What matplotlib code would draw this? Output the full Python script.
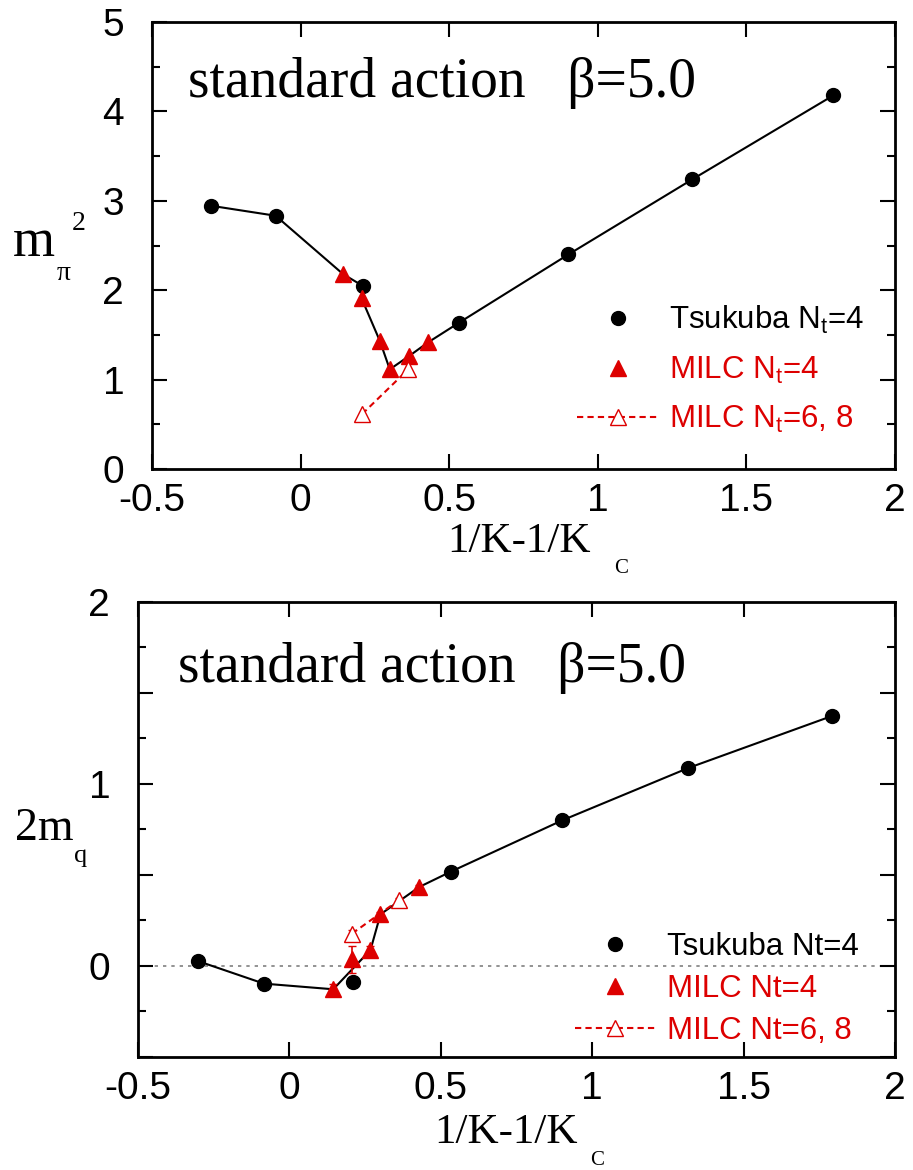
import numpy as np
import matplotlib
matplotlib.use("Agg")
import matplotlib.pyplot as plt
from matplotlib.lines import Line2D

plt.rcParams['font.family'] = ['Liberation Sans', 'DejaVu Sans']
plt.rcParams['mathtext.fontset'] = 'custom'
plt.rcParams['mathtext.rm'] = 'Liberation Sans'
plt.rcParams['mathtext.it'] = 'Liberation Sans'

red = '#dd0000'
serif = ['Liberation Serif', 'DejaVu Serif']

# top panel: m_pi^2
tsu_x = [-0.302, -0.084, 0.210, 0.533, 0.901, 1.318, 1.793]
tsu_mpi2 = [2.945, 2.833, 2.047, 1.637, 2.40, 3.24, 4.18]
milc4_x = [0.143, 0.205, 0.267, 0.300, 0.365, 0.429]
milc4_mpi2 = [2.18, 1.91, 1.43, 1.115, 1.264, 1.417]
milc68_x = [0.207, 0.362]
milc68_mpi2 = [0.615, 1.115]

# bottom panel: 2m_q
tsu_2mq = [0.027, -0.097, -0.088, 0.518, 0.80, 1.088, 1.374]
milc4b_x = [0.145, 0.207, 0.268, 0.301, 0.429]
milc4_2mq = [-0.128, 0.037, 0.088, 0.284, 0.434]
milc4_2mq_err = [0.03, 0.075, 0.02, 0.015, 0.01]
milc68b_x = [0.207, 0.363]
milc68_2mq = [0.178, 0.363]
milc68_2mq_err = [0.02, 0.01]

fig = plt.figure(figsize=(9.13, 11.70), dpi=100)
ax1 = fig.add_axes([0.1665, 0.5991, 0.8138, 0.3821])
ax2 = fig.add_axes([0.1511, 0.0966, 0.8291, 0.3889])


def style(ax, ymaj, ymin_, ylabels, ypad, xpad):
    ax.set_xlim(-0.5, 2)
    ax.set_xticks(np.arange(-0.5, 2.01, 0.5))
    ax.set_xticklabels(['-0.5', '0', '0.5', '1', '1.5', '2'])
    ax.set_yticks(ymaj)
    ax.set_yticklabels(ylabels)
    ax.set_yticks(ymin_, minor=True)
    ax.tick_params(axis='both', which='major', direction='in', length=11, width=1.5,
                   top=True, right=True, labelsize=28)
    ax.tick_params(axis='both', which='minor', direction='in', length=6, width=1.5,
                   top=True, right=True)
    ax.tick_params(axis='y', pad=ypad)
    ax.tick_params(axis='x', pad=xpad)
    for s in ax.spines.values():
        s.set_linewidth(2)


# ---- top ----
path_x = tsu_x[:2] + milc4_x[:1] + tsu_x[2:3] + milc4_x[1:] + tsu_x[3:]
path_y = tsu_mpi2[:2] + milc4_mpi2[:1] + tsu_mpi2[2:3] + milc4_mpi2[1:] + tsu_mpi2[3:]
ax1.plot(path_x, path_y, color='black', lw=1.5, zorder=2)
ax1.plot(tsu_x, tsu_mpi2, 'o', color='black', ms=10, zorder=3, label='Tsukuba N$_t$=4')
ax1.plot(milc4_x, milc4_mpi2, '^', color=red, ms=11, zorder=4, label='MILC N$_t$=4')
ax1.plot(milc68_x, milc68_mpi2, '^', color=red, mfc='white', ls=(0, (3, 2)), lw=1.5,
         ms=11, zorder=4, label='MILC N$_t$=6, 8')
ax1.set_ylim(0, 5)
style(ax1, np.arange(0, 5.1, 1), np.arange(0, 5.1, 0.5),
      ['0', '1', '2', '3', '4', '5'], 20, 10)

# ---- bottom ----
pathb_x = tsu_x[:2] + milc4b_x[:1] + milc4b_x[2:] + tsu_x[3:]
pathb_y = tsu_2mq[:2] + milc4_2mq[:1] + milc4_2mq[2:] + tsu_2mq[3:]
ax2.axhline(0, color='gray', ls=(0, (2, 3)), lw=1.2, zorder=1)
ax2.plot(pathb_x, pathb_y, color='black', lw=1.5, zorder=2)
ax2.plot(tsu_x, tsu_2mq, 'o', color='black', ms=10, zorder=3, label='Tsukuba Nt=4')
ax2.errorbar(milc4b_x, milc4_2mq, yerr=milc4_2mq_err, fmt='^', color=red, ms=11,
             capsize=3, elinewidth=1.2, zorder=4, label='MILC Nt=4')
ax2.errorbar(milc68b_x, milc68_2mq, yerr=milc68_2mq_err, fmt='^', color=red, mfc='white',
             ls=(0, (3, 2)), lw=1.5, ms=11, capsize=3, elinewidth=1.2, zorder=4,
             label='MILC Nt=6, 8')
ax2.set_ylim(-0.5, 2)
style(ax2, np.arange(-0.5, 2.01, 0.5), np.arange(-0.5, 2.01, 0.25),
      ['', '0', '', '1', '', '2'], 20, 10)

# legends
for ax, anchor, spacing in [(ax1, (0.572, 0.37), 0.6), (ax2, (0.577, 0.275), 0.38)]:
    h, l = ax.get_legend_handles_labels()
    if ax is ax2:
        h = [h[0],
             Line2D([], [], marker='^', color=red, ls='none', ms=11),
             Line2D([], [], marker='^', color=red, mfc='white', ls=(0, (3, 2)), lw=1.5, ms=11)]
    leg = ax.legend(h, l, loc='upper left', bbox_to_anchor=anchor, frameon=False,
                    fontsize=22.5, handlelength=2.6, handletextpad=0.35,
                    labelspacing=spacing, borderpad=0, borderaxespad=0)
    for t, c in zip(leg.get_texts(), ['black', red, red]):
        t.set_color(c)

# titles
ax1.text(0.048, 0.832, 'standard action   β=5.0', transform=ax1.transAxes,
         fontsize=40, family=serif, va='baseline')
ax2.text(0.053, 0.824, 'standard action   β=5.0', transform=ax2.transAxes,
         fontsize=40, family=serif, va='baseline')

# axis labels
ax1.text(0.398, -0.186, '1/K-1/K', transform=ax1.transAxes, fontsize=31, family=serif,
         va='baseline')
ax1.text(0.6225, -0.233, 'C', transform=ax1.transAxes, fontsize=15, family=serif,
         va='baseline')
ax2.text(0.391, -0.189, '1/K-1/K', transform=ax2.transAxes, fontsize=31, family=serif,
         va='baseline')
ax2.text(0.598, -0.237, 'C', transform=ax2.transAxes, fontsize=15, family=serif,
         va='baseline')

ax1.text(-0.187, 0.4765, 'm', transform=ax1.transAxes, fontsize=39, family=serif,
         va='baseline')
ax1.text(-0.1285, 0.423, 'π', transform=ax1.transAxes, fontsize=20, family=serif,
         va='baseline')
ax1.text(-0.1083, 0.5347, '2', transform=ax1.transAxes, fontsize=20, family=serif,
         va='baseline')
ax2.text(-0.1625, 0.477, '2m', transform=ax2.transAxes, fontsize=33, family=serif,
         va='baseline')
ax2.text(-0.0845, 0.4286, 'q', transform=ax2.transAxes, fontsize=19, family=serif,
         va='baseline')

fig.savefig('out.png', dpi=100)
